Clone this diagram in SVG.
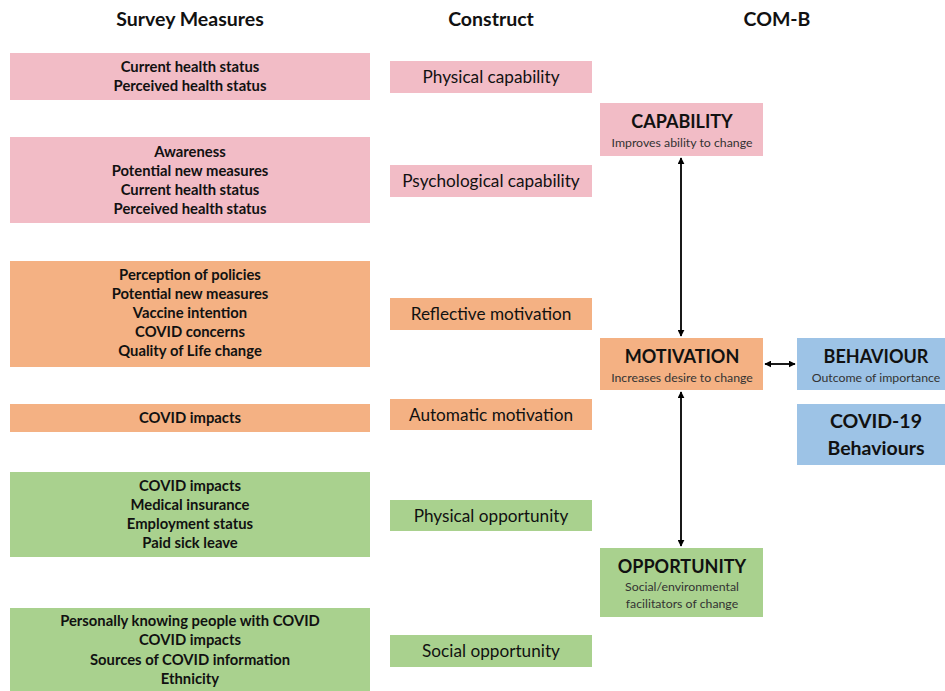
<svg xmlns="http://www.w3.org/2000/svg" width="945" height="691" viewBox="0 0 945 691">
<defs>
<marker id="ah" viewBox="0 0 10 10" refX="9" refY="5" markerWidth="7" markerHeight="7" orient="auto-start-reverse" markerUnits="userSpaceOnUse"><path d="M0,0 L10,5 L0,10 z" fill="#000"/></marker>
</defs>
<style>
text{font-family:Lato,"Open Sans","Liberation Sans",sans-serif;fill:#111;text-anchor:middle}
.h{font-size:19.5px;font-weight:bold}
.m{font-size:14.8px;font-weight:bold}
.c{font-size:17.2px}
.t{font-size:18px;font-weight:bold}
.s{font-size:12.3px;fill:#333}
.pink{fill:#F2BCC6}
.orange{fill:#F4B183}
.green{fill:#A9D18E}
.blue{fill:#9DC3E6}
.ln{stroke:#000;stroke-width:1.8;fill:none}
</style>
<rect width="945" height="691" fill="#fff"/>
<g id="headers">
<text class="h" x="190" y="26">Survey Measures</text>
<text class="h" x="491" y="26">Construct</text>
<text class="h" x="777" y="26">COM-B</text>
</g>
<g id="m1"><rect class="pink" x="10" y="53" width="360" height="47"/>
<text class="m" x="190" y="72">Current health status</text><text class="m" x="190" y="91">Perceived health status</text></g>
<g id="m2"><rect class="pink" x="10" y="137" width="360" height="86"/>
<text class="m" x="190" y="157">Awareness</text><text class="m" x="190" y="176">Potential new measures</text><text class="m" x="190" y="195">Current health status</text><text class="m" x="190" y="214">Perceived health status</text></g>
<g id="m3"><rect class="orange" x="10" y="261" width="360" height="106"/>
<text class="m" x="190" y="280">Perception of policies</text><text class="m" x="190" y="299">Potential new measures</text><text class="m" x="190" y="318">Vaccine intention</text><text class="m" x="190" y="337">COVID concerns</text><text class="m" x="190" y="356">Quality of Life change</text></g>
<g id="m4"><rect class="orange" x="10" y="404" width="360" height="28"/>
<text class="m" x="190" y="423">COVID impacts</text></g>
<g id="m5"><rect class="green" x="10" y="472" width="360" height="85"/>
<text class="m" x="190" y="491">COVID impacts</text><text class="m" x="190" y="510">Medical insurance</text><text class="m" x="190" y="529">Employment status</text><text class="m" x="190" y="548">Paid sick leave</text></g>
<g id="m6"><rect class="green" x="10" y="608" width="360" height="83"/>
<text class="m" x="190" y="626">Personally knowing people with COVID</text><text class="m" x="190" y="645">COVID impacts</text><text class="m" x="190" y="665">Sources of COVID information</text><text class="m" x="190" y="684">Ethnicity</text></g>
<g id="c1"><rect class="pink" x="390" y="61" width="202" height="32"/><text class="c" x="491" y="83">Physical capability</text></g>
<g id="c2"><rect class="pink" x="390" y="165" width="202" height="32"/><text class="c" x="491" y="187">Psychological  capability</text></g>
<g id="c3"><rect class="orange" x="390" y="298" width="202" height="32"/><text class="c" x="491" y="320">Reflective motivation</text></g>
<g id="c4"><rect class="orange" x="390" y="399" width="202" height="31"/><text class="c" x="491" y="421">Automatic motivation</text></g>
<g id="c5"><rect class="green" x="390" y="500" width="202" height="31"/><text class="c" x="491" y="522">Physical opportunity</text></g>
<g id="c6"><rect class="green" x="390" y="635" width="202" height="32"/><text class="c" x="491" y="657">Social opportunity</text></g>
<g id="capability"><rect class="pink" x="600" y="103" width="163" height="53"/>
<text class="t" x="682" y="128">CAPABILITY</text><text class="s" x="682" y="147">Improves  ability to change</text></g>
<g id="motivation"><rect class="orange" x="600" y="338" width="163" height="52"/>
<text class="t" x="682" y="363">MOTIVATION</text><text class="s" x="682" y="382">Increases desire to change</text></g>
<g id="opportunity"><rect class="green" x="600" y="548" width="163" height="69"/>
<text class="t" x="682" y="573">OPPORTUNITY</text><text class="s" x="682" y="591">Social/environmental</text><text class="s" x="682" y="608">facilitators of change</text></g>
<g id="behaviour"><rect class="blue" x="797" y="338" width="148" height="52"/>
<text class="t" x="876" y="363">BEHAVIOUR</text><text class="s" x="876" y="382">Outcome of importance</text></g>
<g id="covid"><rect class="blue" x="797" y="404" width="148" height="61"/>
<text class="t" x="876" y="428" style="font-size:19.5px">COVID-19</text><text class="t" x="876" y="455" style="font-size:19.5px">Behaviours</text></g>
<g id="connectors">
<line class="ln" x1="681" y1="158" x2="681" y2="336" marker-start="url(#ah)" marker-end="url(#ah)"/>
<line class="ln" x1="681" y1="392" x2="681" y2="546" marker-start="url(#ah)" marker-end="url(#ah)"/>
<line class="ln" x1="765" y1="364" x2="795" y2="364" marker-start="url(#ah)" marker-end="url(#ah)"/>
</g>
</svg>
